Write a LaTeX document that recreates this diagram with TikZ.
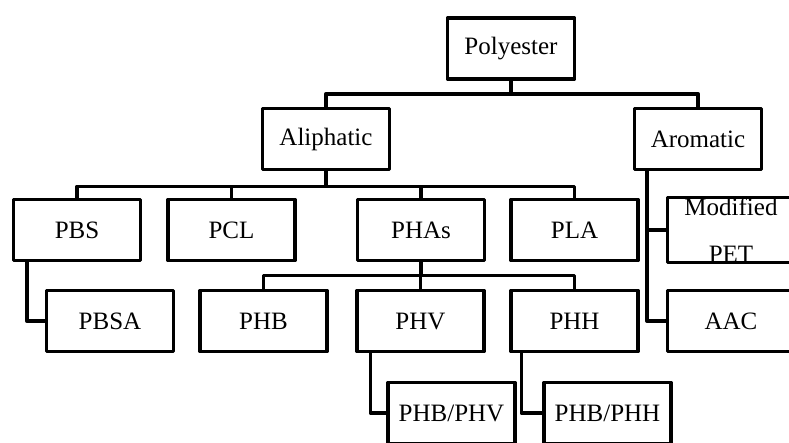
\documentclass[tikz,border=0pt]{standalone}
\usepackage{fontspec}
\setmainfont{Liberation Serif}
\usepackage{tikz}
\usetikzlibrary{positioning}

\tikzset{
  box/.style = {draw, line width=3.5pt, line join=round, minimum width=127pt,
    minimum height=61pt, inner sep=0pt, align=center,
    font=\fontsize{25}{47}\selectfont},
  link/.style = {line width=3.5pt, line join=round}
}

\begin{document}
\begin{tikzpicture}[x=1pt,y=-1pt]
\useasboundingbox (0,0) rectangle (789,442);
\clip (0,0) rectangle (789,442);
% top levels
\node[box] (poly) at (511,48.5) {Polyester};
\node[box] (ali) at (326,139) {Aliphatic};
\node[box] (aro) at (698,139) {Aromatic};
% second level
\node[box] (pbs) at (77,230) {PBS};
\node[box] (pcl) at (231.5,230) {PCL};
\node[box] (phas) at (421,230) {PHAs};
\node[box] (pla) at (574.5,230) {PLA};
\node[box] (pet) at (731,230) {Modified\\PET};
% third level
\node[box] (pbsa) at (110,321) {PBSA};
\node[box] (phb) at (263.5,321) {PHB};
\node[box] (phv) at (420.5,321) {PHV};
\node[box] (phh) at (574.5,321) {PHH};
\node[box] (aac) at (731,321) {AAC};
% bottom
\node[box] (phbphv) at (451.5,413) {PHB/PHV};
\node[box] (phbphh) at (607.5,413) {PHB/PHH};
% connectors
\draw[link] (poly.south) -- ++(0,13) coordinate (j1);
\draw[link] (ali.north) |- (j1) -| (aro.north);
\draw[link] (ali.south) -- ++(0,15) coordinate (j2);
\draw[link] (pbs.north) |- (j2) -| (pla.north);
\draw[link] (pcl.north) |- (j2);
\draw[link] (phas.north) |- (j2);
\draw[link] (phas.south) -- ++(0,13) coordinate (j3);
\draw[link] (phb.north) |- (j3) -| (phh.north);
\draw[link] (phv.north) |- (j3);
\draw[link] ([xshift=15pt]pbs.south west) |- (pbsa.west);
\draw[link] ([xshift=14pt]aro.south west) |- (aac.west);
\draw[link] ([xshift=14pt]aro.south west) |- (pet.west);
\draw[link] ([xshift=15pt]phv.south west) |- (phbphv.west);
\draw[link] ([xshift=12pt]phh.south west) |- (phbphh.west);
\end{tikzpicture}
\end{document}
